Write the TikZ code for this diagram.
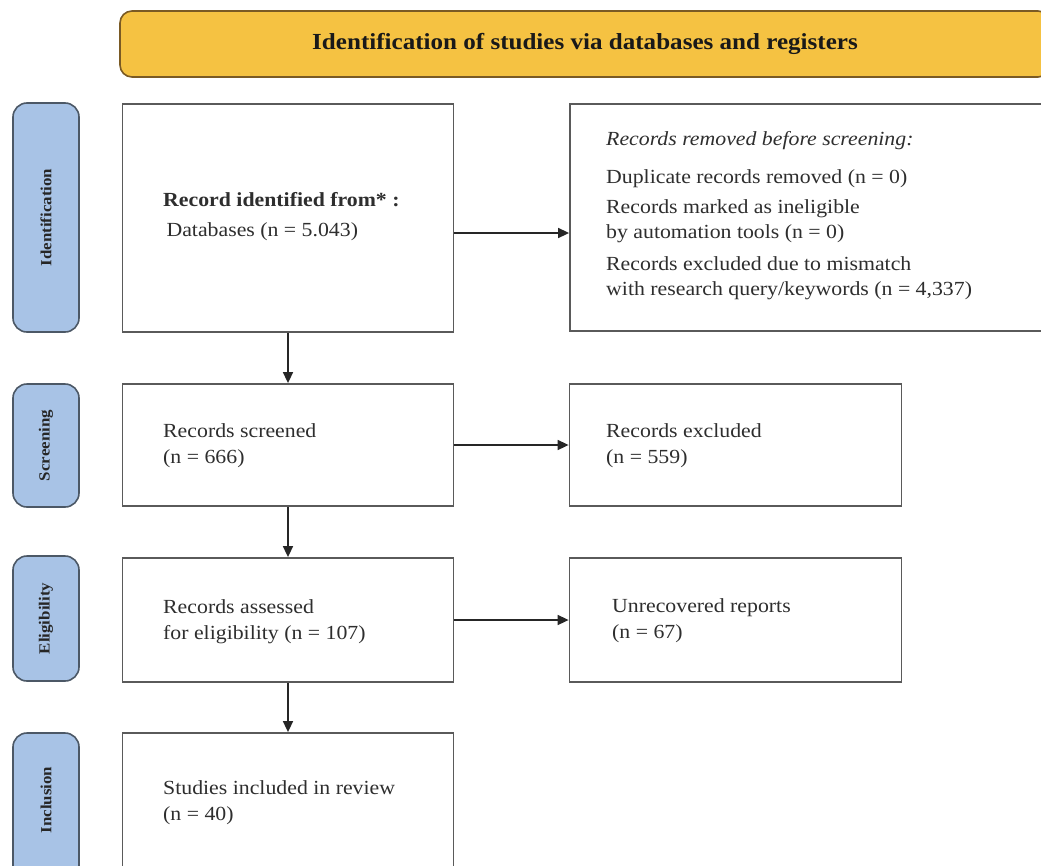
\documentclass[tikz,border=0pt]{standalone}
\usepackage{fontspec}
\setmainfont[FakeStretch=1.09]{Liberation Serif}
\usetikzlibrary{arrows.meta,calc}
\definecolor{hdrfill}{HTML}{F5C242}
\definecolor{hdrdraw}{HTML}{7A5A24}
\definecolor{tabfill}{HTML}{A8C3E6}
\definecolor{tabdraw}{HTML}{4C5866}
\definecolor{boxdraw}{HTML}{5A5A5A}
\definecolor{txt}{HTML}{2E2E2E}
\tikzset{
  stagebox/.style={draw=boxdraw,line width=1.8pt,fill=white,rectangle,inner sep=0pt},
  tabbox/.style={draw=tabdraw,line width=1.6pt,fill=tabfill,rounded corners=14pt,inner sep=0pt},
  hdrbox/.style={draw=hdrdraw,line width=1.6pt,fill=hdrfill,rounded corners=12pt,inner sep=0pt},
  boxtext/.style={anchor=west,align=left,inner sep=0pt,text=txt,font=\fontsize{20}{26}\selectfont},
  tabtext/.style={rotate=90,inner sep=0pt,text=black!85,font=\bfseries\fontsize{15.5}{17}\selectfont},
  arr/.style={draw=black!85,line width=1.6pt,-{Triangle[length=11pt,width=10pt]}}
}
\begin{document}
\begin{tikzpicture}[x=1pt,y=-1pt]
\useasboundingbox (0,0) rectangle (1041,865);
\fill[white] (0,0) rectangle (1041,865);
\clip (0,0) rectangle (1041,865);
% header
\node[hdrbox,minimum width=930pt,minimum height=66pt] (hdr) at (585,44) {};
\node[inner sep=0pt,text=black!90,font=\bfseries\fontsize{23}{26}\selectfont] (hdrt) at (hdr.center) {Identification of studies via databases and registers};
% tabs
\node[tabbox,minimum width=66pt,minimum height=229pt] (t1) at (46,217.5) {};
\node[tabtext] (t1t) at (t1.center) {Identification};
\node[tabbox,minimum width=66pt,minimum height=123pt] (t2) at (46,445.5) {};
\node[tabtext] (t2t) at (t2.center) {Screening};
\node[tabbox,minimum width=66pt,minimum height=125pt] (t3) at (46,618.5) {};
\node[tabtext] (t3t) at (t3.center) {Eligibility};
\node[tabbox,minimum width=66pt,minimum height=167pt] (t4) at (46,816.5) {};
\node[tabtext] (t4t) at (46,800) {Inclusion};
% left boxes
\node[stagebox,minimum width=331pt,minimum height=228pt] (b1) at (288,218) {};
\node[stagebox,minimum width=331pt,minimum height=122pt] (b2) at (288,445) {};
\node[stagebox,minimum width=331pt,minimum height=124pt] (b3) at (288,620) {};
\node[stagebox,minimum width=331pt,minimum height=167pt] (b4) at (288,816.5) {};
% right boxes
\node[stagebox,minimum width=480pt,minimum height=227pt] (r1) at (810,217.5) {};
\node[stagebox,minimum width=332pt,minimum height=122pt] (r2) at (735.5,445) {};
\node[stagebox,minimum width=332pt,minimum height=124pt] (r3) at (735.5,620) {};
% texts
\node[boxtext,font=\fontsize{20}{30}\selectfont] (b1t) at (163,217) {\textbf{Record identified from* :}\\\,Databases (n = 5.043)};
\node[boxtext] (b2t) at (163,446) {Records screened\\(n = 666)};
\node[boxtext] (b3t) at (163,622) {Records assessed\\for eligibility (n = 107)};
\node[boxtext] (b4t) at (163,803) {Studies included in review\\(n = 40)};
\node[boxtext] (r2t) at (606,446) {Records excluded\\(n = 559)};
\node[boxtext] (r3t) at (612,621) {Unrecovered reports\\(n = 67)};
\node[boxtext,anchor=north west,font=\fontsize{20}{25}\selectfont] (r1t) at (606,131) {\textit{Records removed before screening:}\\[13pt]
Duplicate records removed (n = 0)\\[5pt]
Records marked as ineligible\\
by automation tools (n = 0)\\[7pt]
Records excluded due to mismatch\\
with research query/keywords (n = 4,337)};
% connectors
\coordinate (a1) at ($(b1.east)+(0,15)$);
\draw[arr] (b1.south) -- (b2.north);
\draw[arr] (b2.south) -- (b3.north);
\draw[arr] (b3.south) -- (b4.north);
\draw[arr] (a1) -- (a1 -| r1.west);
\draw[arr] (b2.east) -- (r2.west);
\draw[arr] (b3.east) -- (r3.west);
\end{tikzpicture}
\end{document}
